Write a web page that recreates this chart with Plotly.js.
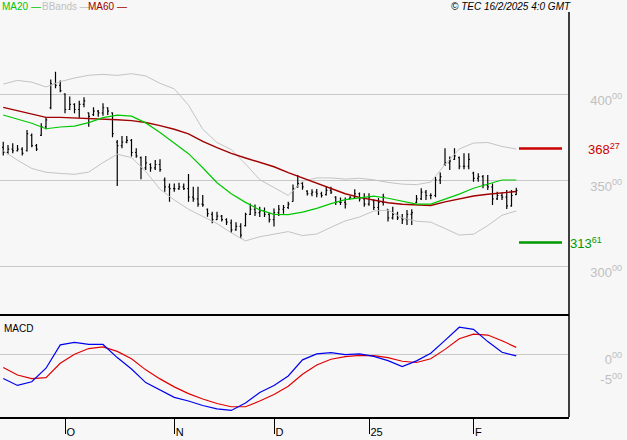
<!DOCTYPE html>
<html>
<head>
<meta charset="utf-8">
<script src="https://cdn.plot.ly/plotly-3.0.1.min.js"></script>
<style>
html,body{margin:0;padding:0;background:#f7f7f7;}
#chart{width:627px;height:440px;}
</style>
</head>
<body>
<div id="chart"></div>
<script>
// ---------- DATA ----------
const dates = [
"2024-09-12","2024-09-13","2024-09-16","2024-09-17","2024-09-18","2024-09-19","2024-09-20","2024-09-23","2024-09-24","2024-09-25","2024-09-26","2024-09-27","2024-09-30",
"2024-10-01","2024-10-02","2024-10-03","2024-10-04","2024-10-07","2024-10-08","2024-10-09","2024-10-10","2024-10-11","2024-10-14","2024-10-15","2024-10-16","2024-10-17","2024-10-18","2024-10-21","2024-10-22","2024-10-23","2024-10-24","2024-10-25","2024-10-28","2024-10-29","2024-10-30","2024-10-31",
"2024-11-01","2024-11-04","2024-11-05","2024-11-06","2024-11-07","2024-11-08","2024-11-11","2024-11-12","2024-11-13","2024-11-14","2024-11-15","2024-11-18","2024-11-19","2024-11-20","2024-11-21","2024-11-22","2024-11-25","2024-11-26","2024-11-27","2024-11-28","2024-11-29",
"2024-12-02","2024-12-03","2024-12-04","2024-12-05","2024-12-06","2024-12-09","2024-12-10","2024-12-11","2024-12-12","2024-12-13","2024-12-16","2024-12-17","2024-12-18","2024-12-19","2024-12-20","2024-12-23","2024-12-24","2024-12-27","2024-12-30","2024-12-31",
"2025-01-02","2025-01-03","2025-01-06","2025-01-07","2025-01-08","2025-01-09","2025-01-10","2025-01-13","2025-01-14","2025-01-15","2025-01-16","2025-01-17","2025-01-20","2025-01-21","2025-01-22","2025-01-23","2025-01-24","2025-01-27","2025-01-28","2025-01-29","2025-01-30","2025-01-31",
"2025-02-03","2025-02-04","2025-02-05","2025-02-06","2025-02-07","2025-02-10","2025-02-11","2025-02-12","2025-02-13","2025-02-14"
];

const openP = [
369,366,368,367,368,367,376,370,376,381,
392,406,405,400,391,394,391,394,389,388,
390,389,392,389,372,370,372,373,366,363,
357,359,357,359,350,346,345,345,346,345,
340,339,336,333,330,327,329,327,325,321,
323,323.5,330,333,331,332,330,327,331,333,
334,337.5,346,348,343.5,342,343,342,341.5,344,
340,337,337,339,340,342,339,336,338,334,
337,333,328,330,328,327,330,337,339,343,
341,341,350,359,360,362,363,358,358,354,
351,352,347,346,339,341,340,335,341.5
];
const highP = [
372.3,370.3,371.3,370.3,369.0,379.1,377.1,371.0,383.0,386.4,
408.5,413.0,407.8,400.4,398.5,394.6,396.1,398.1,389.3,392.3,
390.7,394.6,392.3,389.3,373.3,375.6,375.6,373.8,368.4,363.6,
364.0,359.7,361.6,362.0,351.5,348.0,348.0,348.4,348.0,353.5,
346.1,346.1,341.3,333.5,331.6,331.6,329.6,327.7,327.1,325.5,
324.8,331.0,336.4,335.8,334.5,334.0,331.0,333.5,335.5,335.5,
337.4,347.4,352.9,348.7,344.0,344.6,344.7,343.2,346.0,346.1,
340.5,339.8,339.8,340.5,344.6,342.8,342.3,342.3,338.6,339.5,
342.0,333.0,334.5,331.6,330.2,332.6,333.0,341.3,345.2,344.2,
342.3,351.9,354.3,368.4,363.6,368.4,363.6,365.5,365.5,354.8,
353.9,352.9,352.9,348.0,343.2,342.8,344.2,344.2,345.5
];
const lowP = [
364.2,364.9,365.5,366.5,364.2,366.5,369.0,366.9,375.6,379.5,
391.1,403.3,401.0,388.8,390.7,388.8,386.2,392.3,381.0,387.2,
386.8,387.4,387.8,374.8,346.5,368.4,371.3,363.6,363.0,350.4,
355.8,354.8,355.8,354.8,343.2,337.4,343.2,344.2,344.2,337.4,
337.4,334.5,334.5,328.7,324.8,326.7,325.8,323.8,319.4,320.5,
316.1,323.0,329.6,329.0,328.5,328.5,325.3,323.0,329.0,330.4,
333.2,337.4,345.5,344.4,341.0,340.5,340.0,339.8,341.0,341.9,
335.5,335.5,333.5,338.8,339.3,337.5,334.5,335.0,332.6,329.6,
335.2,325.8,327.0,326.7,324.4,323.8,323.8,336.5,338.4,338.4,
338.8,339.9,347.7,358.1,355.8,361.6,356.2,356.2,356.2,349.0,
349.0,345.2,344.2,335.5,338.4,338.4,333.1,334.5,341.3
];
const closeP = [
366,368,367,368,365.5,377,370,368,381,385,
406,405,402,391,394,391,394,396,387,390,
389,392,390,377,370,372,373,366,364,357,
360,357,359,356,346,345,345,346,345,340,
339,336,335.5,330.5,327,329,327,325.5,321,323,
318,330,333,331,332,330,327,331,333,334,
336,345,348,346,342,343,342,341,344,343,
337,337,336,340,342,339,336,340,334,337,
340,328,330,328,327,330,331,339,343,341,
341,350,352,360,361,364,358,358,362,351,
352,347,346,339,341,340,335,341,344
];

// indicator lines read every third bar
const lineIdx = [0,3,6,9,12,15,18,21,24,27,30,33,36,39,42,45,48,51,54,57,60,63,66,69,72,75,78,81,84,87,90,93,96,99,102,105,108];
const ma20 = [387.8,385.3,383.0,379.8,380.8,381.3,383.4,386.3,387.7,387.1,383.2,377.6,371.7,365.3,357.1,348.4,342.0,337.0,332.6,330.0,329.9,331.3,333.5,336.3,338.6,339.8,340.6,339.4,337.5,336.0,336.0,338.8,341.8,345.2,347.4,350.0,350.0];
const ma60 = [392.2,390.3,388.2,386.4,386.4,386.1,385.7,385.7,385.0,384.5,383.4,381.6,379.5,376.8,372.5,368.8,365.5,362.8,360.1,357.7,354.3,351.3,348.3,345.4,342.0,339.9,338.3,336.8,335.9,335.5,335.2,337.3,339.1,340.7,341.7,342.4,343.3];
const bbUpper = [405.8,407.9,406.9,404.1,407.2,409.3,410.9,411.4,410.8,411.8,410.5,406.2,403.0,393.5,379.5,371.8,367.7,359.3,350.2,345.5,341.0,349.3,351.2,351.2,350.5,351.0,350.1,348.6,347.6,347.3,348.8,359.0,368.0,371.5,371.8,369.5,368.0];
const bbLower = [367.0,361.5,356.7,354.5,353.8,353.3,354.6,360.1,365.0,363.0,355.0,344.6,338.4,333.0,328.8,324.7,319.3,314.6,317.0,318.5,320.0,317.7,318.6,322.5,326.2,328.5,332.0,332.5,328.0,326.0,325.5,321.8,318.0,318.5,323.5,329.5,332.0];
const macdLine = [-5.9,-7.6,-6.7,-3.4,2.3,2.9,2.4,2.4,-0.8,-3.6,-6.9,-8.6,-10.5,-11.4,-12.5,-13.3,-13.7,-11.9,-9.3,-7.6,-5.3,-1.35,0.1,0.4,-0.1,0.1,-0.5,-1.55,-3.0,-1.6,0.25,3.4,6.6,6.1,3.1,0.5,-0.4];
const signalLine = [-3.2,-5.05,-5.95,-5.7,-2.2,0.0,1.4,1.8,0.7,-1.1,-3.8,-6.0,-7.95,-9.6,-10.9,-12.0,-12.8,-12.8,-11.4,-9.8,-7.8,-4.85,-2.6,-1.2,-0.57,-0.24,-0.33,-0.8,-1.7,-2.0,-1.1,1.2,3.8,4.9,4.7,3.3,1.7];

const levelValues = [368.27, 313.61];
const levelLabels = ["368<sup>27</sup>", "313<sup>61</sup>"];

const priceTickVals = [300, 350, 400];
const priceTickText = ["300<sup>00</sup>", "350<sup>00</sup>", "400<sup>00</sup>"];
const macdTickVals = [0, -5];
const macdTickText = ["0<sup>00</sup>", "-5<sup>00</sup>"];
const monthTickDates = ["2024-10-01", "2024-11-01", "2024-12-02", "2025-01-02", "2025-02-03"];
const monthTickText = ["O", "N", "D", "25", "F"];

// ---------- STYLE / LAYOUT ----------
const BG = "#f7f7f7";
const FONT = "Liberation Sans, Arial, sans-serif";
const W = 627, H = 440, MB = 23, PH = H - MB;   // plot area height 417
const PLOT_R = 569;                              // right border of panels (px)
const SPLIT = 315;                               // border between panels (px)
const px = v => v / W;
const py = v => (PH - v) / PH;

const lineDates = lineIdx.map(i => dates[i]);

const traces = [
  {type:"scatter", mode:"lines", x:lineDates, y:bbUpper, xaxis:"x", yaxis:"y",
   line:{color:"#c4c4c4", width:1}, hoverinfo:"skip"},
  {type:"scatter", mode:"lines", x:lineDates, y:bbLower, xaxis:"x", yaxis:"y",
   line:{color:"#c4c4c4", width:1}, hoverinfo:"skip"},
  {type:"scatter", mode:"lines", x:lineDates, y:ma60, xaxis:"x", yaxis:"y",
   line:{color:"#a00000", width:1.4}, hoverinfo:"skip"},
  {type:"scatter", mode:"lines", x:lineDates, y:ma20, xaxis:"x", yaxis:"y",
   line:{color:"#00c800", width:1.2}, hoverinfo:"skip"},
  {type:"scatter", mode:"lines", x:lineDates, y:signalLine, xaxis:"x", yaxis:"y2",
   line:{color:"#e00000", width:1.2}, hoverinfo:"skip"},
  {type:"scatter", mode:"lines", x:lineDates, y:macdLine, xaxis:"x", yaxis:"y2",
   line:{color:"#0000f0", width:1.2}, hoverinfo:"skip"},
  {type:"ohlc", x:dates, open:openP, high:highP, low:lowP, close:closeP,
   xaxis:"x", yaxis:"y", tickwidth:0.25,
   increasing:{line:{color:"#000", width:1.2}},
   decreasing:{line:{color:"#000", width:1.2}},
   hoverinfo:"skip"}
];

const levelColors = ["#cc0000", "#009900"];
const shapes = [
  {type:"line", xref:"paper", yref:"paper", x0:px(PLOT_R), x1:px(PLOT_R), y0:0, y1:py(12),
   line:{color:"#000", width:1.5}},
  {type:"line", xref:"paper", yref:"paper", x0:0, x1:px(PLOT_R), y0:py(SPLIT), y1:py(SPLIT),
   line:{color:"#000", width:2}}
];
levelValues.forEach((v, k) => {
  shapes.push({type:"line", xref:"paper", yref:"y", x0:px(519), x1:px(562), y0:v, y1:v,
    line:{color:levelColors[k], width:2.5}});
});

const annotations = [
  {xref:"paper", yref:"paper", x:px(0), y:py(6), xanchor:"left", yanchor:"middle", showarrow:false,
   text:"MA20 —", font:{family:FONT, size:10, color:"#00c800"}},
  {xref:"paper", yref:"paper", x:px(40), y:py(6), xanchor:"left", yanchor:"middle", showarrow:false,
   text:"BBands —", font:{family:FONT, size:10, color:"#c0c0c0"}},
  {xref:"paper", yref:"paper", x:px(86), y:py(6), xanchor:"left", yanchor:"middle", showarrow:false,
   text:"MA60 —", font:{family:FONT, size:10, color:"#990000"}},
  {xref:"paper", yref:"paper", x:px(449), y:py(6), xanchor:"left", yanchor:"middle", showarrow:false,
   text:"<i>© TEC 16/2/2025 4:0 GMT</i>", font:{family:FONT, size:10, color:"#000"}},
  {xref:"paper", yref:"paper", x:px(2), y:py(328), xanchor:"left", yanchor:"middle", showarrow:false,
   text:"MACD", font:{family:FONT, size:10, color:"#000"}},
  {xref:"paper", yref:"y", x:px(622), y:levelValues[0], xanchor:"right", yanchor:"middle", showarrow:false,
   text:levelLabels[0], font:{family:FONT, size:13, color:levelColors[0]}},
  {xref:"paper", yref:"y", x:px(568), y:levelValues[1], xanchor:"left", yanchor:"middle", showarrow:false,
   text:levelLabels[1], font:{family:FONT, size:13, color:levelColors[1]}}
];

const layout = {
  width: W, height: H,
  margin: {l:0, r:0, t:0, b:MB, pad:0},
  paper_bgcolor: BG, plot_bgcolor: BG,
  showlegend: false,
  font: {family: FONT, size: 11, color: "#000"},
  xaxis: {
    type:"category", categoryorder:"category ascending",
    domain:[0, px(PLOT_R)], range:[-0.684, 119.105], anchor:"y2",
    tickmode:"array", tickvals:monthTickDates, ticktext:monthTickText,
    ticks:"outside", ticklen:15, tickwidth:1, tickcolor:"#000",
    ticklabelposition:"outside right", ticklabelstandoff:4,
    tickfont:{family:FONT, size:11, color:"#000"},
    showgrid:false, zeroline:false, showline:true, linecolor:"#000", linewidth:2,
    rangeslider:{visible:false}, fixedrange:true
  },
  yaxis: {
    domain:[py(SPLIT), 1], range:[271.51, 454.65],
    anchor:"free", position:1, side:"left",
    tickmode:"array", tickvals:priceTickVals, ticktext:priceTickText,
    ticks:"", ticklabelshift:6, ticklabelstandoff:5,
    tickfont:{family:FONT, size:13, color:"#c0c0c0"},
    showgrid:true, gridcolor:"#c8c8c8", gridwidth:1,
    zeroline:false, showline:false, fixedrange:true
  },
  yaxis2: {
    domain:[0, py(SPLIT)], range:[-15.3, 9.59],
    anchor:"free", position:1, side:"left",
    tickmode:"array", tickvals:macdTickVals, ticktext:macdTickText,
    ticks:"", ticklabelshift:5, ticklabelstandoff:5,
    tickfont:{family:FONT, size:13, color:"#c0c0c0"},
    showgrid:false, zeroline:true, zerolinecolor:"#c8c8c8", zerolinewidth:1,
    showline:false, fixedrange:true
  },
  shapes: shapes,
  annotations: annotations
};

Plotly.newPlot("chart", traces, layout, {displayModeBar:false, staticPlot:true});
</script>
</body>
</html>
